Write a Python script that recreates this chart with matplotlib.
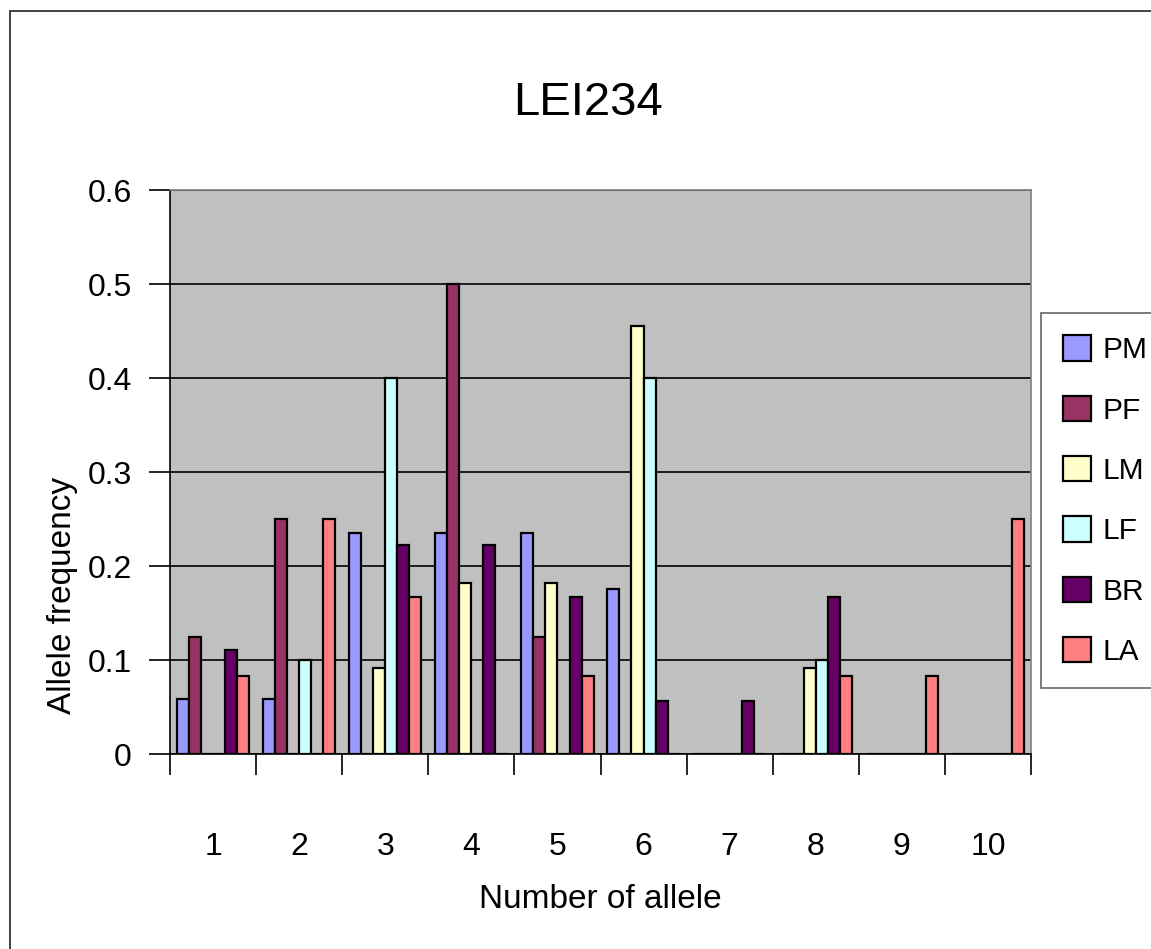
import numpy as np
import matplotlib
matplotlib.use("Agg")
import matplotlib.pyplot as plt
from matplotlib.patches import Rectangle
from matplotlib.ticker import FixedLocator, NullFormatter

plt.rcParams['font.family'] = ['Liberation Sans', 'DejaVu Sans']

# Allele frequencies per population for marker LEI234
alleles = ["1", "2", "3", "4", "5", "6", "7", "8", "9", "10"]
series_names = ["PM", "PF", "LM", "LF", "BR", "LA"]
PM = [0.059, 0.059, 0.235, 0.235, 0.235, 0.176, 0, 0, 0, 0]
PF = [0.125, 0.25, 0, 0.5, 0.125, 0, 0, 0, 0, 0]
LM = [0, 0, 0.091, 0.182, 0.182, 0.455, 0, 0.091, 0, 0]
LF = [0, 0.1, 0.4, 0, 0, 0.4, 0, 0.1, 0, 0]
BR = [0.111, 0, 0.222, 0.222, 0.167, 0.056, 0.056, 0.167, 0, 0]
LA = [0.083, 0.25, 0.167, 0, 0.083, 0, 0, 0.083, 0.083, 0.25]
colors = ["#9999FF", "#993366", "#FFFFCC", "#CCFFFF", "#660066", "#FF8080"]

W, H = 1151, 949
fig = plt.figure(figsize=(W / 100, H / 100), dpi=100)
fig.patch.set_facecolor("white")

# outer chart border
fig.patches.append(Rectangle((10 / W, -0.1), 1.2, 1 - 11 / H + 0.1,
                             transform=fig.transFigure, fill=False,
                             edgecolor="#222222", linewidth=1.2))

ax = fig.add_axes([170 / W, (H - 754) / H, (1031 - 170) / W, (754 - 190) / H])
ax.set_facecolor("#C0C0C0")

x = np.arange(1, len(alleles) + 1)
bw = 0.14
data = [PM, PF, LM, LF, BR, LA]
for i, (name, vals, col) in enumerate(zip(series_names, data, colors)):
    offs = -0.35 + bw * i
    ax.bar(x + offs, vals, width=bw, color=col, edgecolor="black",
           linewidth=1.6, label=name, zorder=3)

ax.set_xlim(0.5, len(alleles) + 0.5)
ax.set_ylim(0, 0.6)
ax.set_yticks(np.arange(0, 0.61, 0.1))
ax.set_yticklabels(["0", "0.1", "0.2", "0.3", "0.4", "0.5", "0.6"])
ax.yaxis.grid(True, color="black", linewidth=1.2, zorder=1)
ax.set_axisbelow(True)

ax.set_xticks(x)
ax.set_xticklabels(alleles)
ax.xaxis.set_minor_locator(FixedLocator(np.arange(0.5, len(alleles) + 1, 1)))
ax.xaxis.set_minor_formatter(NullFormatter())
ax.tick_params(axis="x", which="major", length=0, pad=56, labelsize=23)
ax.tick_params(axis="x", which="minor", length=15, width=1.2, color="black")
ax.tick_params(axis="y", length=15, width=1.2, pad=12.5, labelsize=23)

for side in ("top", "right"):
    ax.spines[side].set_color("#808080")
    ax.spines[side].set_linewidth(1.2)
for side in ("left", "bottom"):
    ax.spines[side].set_color("black")
    ax.spines[side].set_linewidth(1.2)

fig.text(588 / W, 1 - 103 / H, "LEI234", fontsize=34, ha="center", va="center")
fig.text(600 / W, 1 - 900 / H, "Number of allele", fontsize=24,
         ha="center", va="center")
fig.text(63 / W, 1 - 595 / H, "Allele frequency", fontsize=24,
         ha="center", va="center", rotation=90)

leg = ax.legend(loc="upper left", bbox_to_anchor=(1041 / W, 1 - 313 / H),
                bbox_transform=fig.transFigure, fontsize=21.5, frameon=True,
                fancybox=False, edgecolor="#404040", borderpad=0.75,
                handlelength=0.93, handleheight=0.93, handletextpad=0.37,
                labelspacing=1.05, borderaxespad=0)
leg.get_frame().set_linewidth(1.2)

fig.savefig("out.png", dpi=100)
